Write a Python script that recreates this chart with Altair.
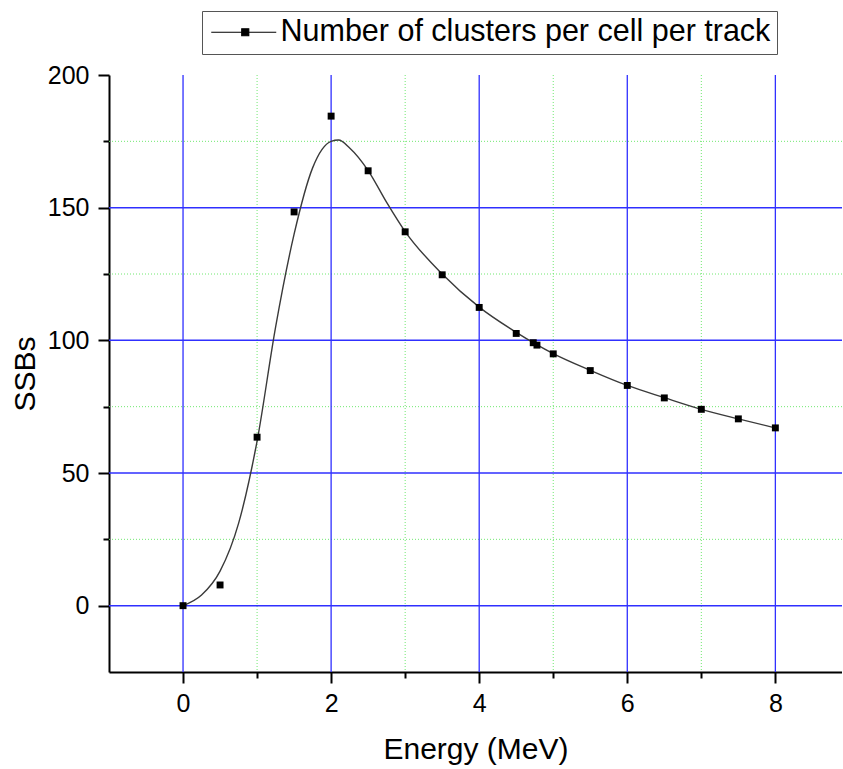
import altair as alt
import pandas as pd

SERIES = "Number of clusters per cell per track"

# measured points
energy = [0, 0.5, 1, 1.5, 2, 2.5, 3, 3.5, 4, 4.5, 4.73, 4.78, 5, 5.5, 6, 6.5, 7, 7.5, 8]
ssbs = [0, 7.8, 63.5, 148.4, 184.5, 163.9, 140.9, 124.7, 112.4, 102.6, 99.1, 98.2,
        94.9, 88.6, 83.0, 78.3, 74.0, 70.4, 67.0]

# fitted curve
fit_energy = [0, 0.25, 0.5, 0.75, 1.0, 1.25, 1.5, 1.75, 2.0, 2.1, 2.25, 2.5, 2.75,
              3.0, 3.5, 4, 4.5, 5, 5.5, 6, 6.5, 7, 7.5, 8]
fit_ssbs = [0, 4, 13, 31, 62, 105, 140, 165, 175, 175.5, 172.5, 164, 152,
            141, 125, 112.5, 103, 95, 88.7, 83, 78.4, 74, 70.4, 67]

# tick / grid values
x_ticks = [0, 1, 2, 3, 4, 5, 6, 7, 8]
y_ticks = [0, 25, 50, 75, 100, 125, 150, 175, 200]
x_major = [0, 2, 4, 6, 8]
x_minor = [1, 3, 5, 7]
y_major = [0, 50, 100, 150]
y_minor = [25, 75, 125, 175]

pts = pd.DataFrame({"Energy": energy, "SSBs": ssbs, "series": [SERIES] * len(energy)})
fit = pd.DataFrame({"Energy": fit_energy, "SSBs": fit_ssbs})

FONT = "Liberation Sans"
BLUE = "#3030ff"
GREEN = "#70e870"

x_scale = alt.Scale(domain=[-1, 8.9], nice=False, zero=False)
y_scale = alt.Scale(domain=[-25, 200], nice=False, zero=False)

x_axis = alt.Axis(
    values=x_ticks,
    format="d",
    labelExpr="datum.value % 2 === 0 ? datum.label : ''",
    title="Energy (MeV)",
    grid=False,
    tickSize={"condition": {"test": "datum.value % 2 === 0", "value": 11}, "value": 6},
    tickColor="black", tickWidth=2,
    domainColor="black", domainWidth=2,
    labelFont=FONT, labelFontSize=25, labelColor="black", labelPadding=8,
    titleFont=FONT, titleFontSize=30, titleColor="black", titleFontWeight="normal",
    titlePadding=18,
)
y_axis = alt.Axis(
    values=y_ticks,
    format="d",
    labelExpr="datum.value % 50 === 0 ? datum.label : ''",
    title="SSBs",
    grid=False,
    tickSize={"condition": {"test": "datum.value % 50 === 0", "value": 11}, "value": 6},
    tickColor="black", tickWidth=2,
    domainColor="black", domainWidth=2,
    labelFont=FONT, labelFontSize=25, labelColor="black", labelPadding=9,
    titleFont=FONT, titleFontSize=30, titleColor="black", titleFontWeight="normal",
    titlePadding=7,
)

x_enc = alt.X("Energy:Q", scale=x_scale, axis=x_axis)
y_enc = alt.Y("SSBs:Q", scale=y_scale, axis=y_axis)

def vgrid(vals, color, dash, width):
    return alt.Chart(pd.DataFrame({"Energy": vals})).mark_rule(
        color=color, strokeDash=dash, strokeWidth=width
    ).encode(x=alt.X("Energy:Q", scale=x_scale, axis=x_axis))

def hgrid(vals, color, dash, width):
    return alt.Chart(pd.DataFrame({"SSBs": vals})).mark_rule(
        color=color, strokeDash=dash, strokeWidth=width
    ).encode(y=alt.Y("SSBs:Q", scale=y_scale, axis=y_axis))

grid_layers = [
    vgrid(x_minor, GREEN, [1, 2], 1),
    hgrid(y_minor, GREEN, [1, 2], 1),
    vgrid(x_major, BLUE, [1, 0], 1.3),
    hgrid(y_major, BLUE, [1, 0], 1.5),
]

line = alt.Chart(fit).mark_line(interpolate="monotone", color="#3a3a3a", strokeWidth=1.4).encode(
    x=x_enc, y=y_enc
)

legend_symbol = "M-1.2,0L5.3,0M1.85,-0.35L2.55,-0.35L2.55,0.35L1.85,0.35Z"

points = alt.Chart(pts).mark_square(size=48, opacity=1).encode(
    x=x_enc,
    y=y_enc,
    color=alt.Color(
        "series:N",
        scale=alt.Scale(range=["black"]),
        legend=alt.Legend(
            title=None, orient="none", legendX=93, legendY=-64,
            symbolType=legend_symbol, symbolSize=400,
            symbolStrokeColor="black", symbolStrokeWidth=1.2, symbolFillColor="black",
            labelFont=FONT, labelFontSize=30.5, labelColor="black", labelOffset=42,
            labelLimit=0, padding=6, strokeColor="#555555", fillColor="white",
        ),
    ),
)

chart = alt.layer(*grid_layers, line, points).properties(
    width=733, height=597,
    autosize=alt.AutoSizeParams(type="none"),
    padding={"left": 109, "top": 75, "right": 0, "bottom": 97},
    background="white",
).configure_view(stroke=None)

chart.save("out.html", embed_options={"renderer": "svg", "actions": False})
